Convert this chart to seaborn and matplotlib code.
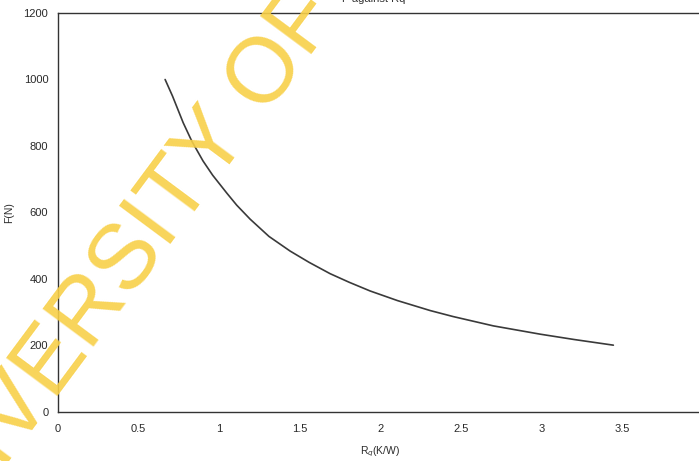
import numpy as np
import pandas as pd
import seaborn as sns
import matplotlib.pyplot as plt

# values
rq = [0.664, 0.710, 0.776, 0.829, 0.899, 0.959, 1.047, 1.108, 1.191, 1.308, 1.439, 1.557, 1.687, 1.806,
      1.935, 2.105, 2.308, 2.450, 2.699, 2.990, 3.200, 3.443]
force = [1000, 950, 870, 815, 755, 712, 658, 622, 580, 528, 484, 450, 416, 390,
         364, 335, 305, 287, 259, 234, 218, 201]
x_ticks = [0, 0.5, 1, 1.5, 2, 2.5, 3, 3.5]
x_labels = ["0", "0.5", "1", "1.5", "2", "2.5", "3", "3.5"]
y_ticks = [0, 200, 400, 600, 800, 1000, 1200]

df = pd.DataFrame({"Rq": rq, "F": force})

sns.set_style("white")
plt.rcParams['font.family'] = ['Liberation Sans', 'DejaVu Sans']

fig = plt.figure(figsize=(6.99, 4.61), dpi=100)
ax = fig.add_axes([0.083, 0.1063, 0.923, 0.8655])

sns.lineplot(data=df, x="Rq", y="F", ax=ax, color="#3a3a3a", linewidth=1.2, sort=False)

ax.set_xlim(0, 4)
ax.set_ylim(0, 1200)
ax.set_xticks(x_ticks)
ax.set_xticklabels(x_labels)
ax.set_yticks(y_ticks)
ax.tick_params(axis='both', labelsize=8, colors="#2a2a2a", length=3, width=0.8, direction='out', pad=4)
ax.tick_params(axis='x', pad=6)
for s in ax.spines.values():
    s.set_color("#333333")
    s.set_linewidth(1.0)

ax.set_xlabel("R$_q$(K/W)", fontsize=7.5, color="#2a2a2a", labelpad=7)
ax.set_ylabel("F(N)", fontsize=7.5, color="#2a2a2a")
ax.yaxis.set_label_coords(-0.068, 0.5)

# title, partly cut off at the top edge like the scan
fig.text(0.535, 1.003, "F against Rq", fontsize=8, color="#333333", ha='center', va='center')

# yellow watermark
fig.text(322 / 699, 1 - 0 / 461, "UNIVERSITY OF", fontsize=66, color="#F8D048",
         rotation=53.4, ha='right', va='center', rotation_mode='anchor', alpha=0.9, zorder=10)

plt.savefig("out.png", dpi=100)
